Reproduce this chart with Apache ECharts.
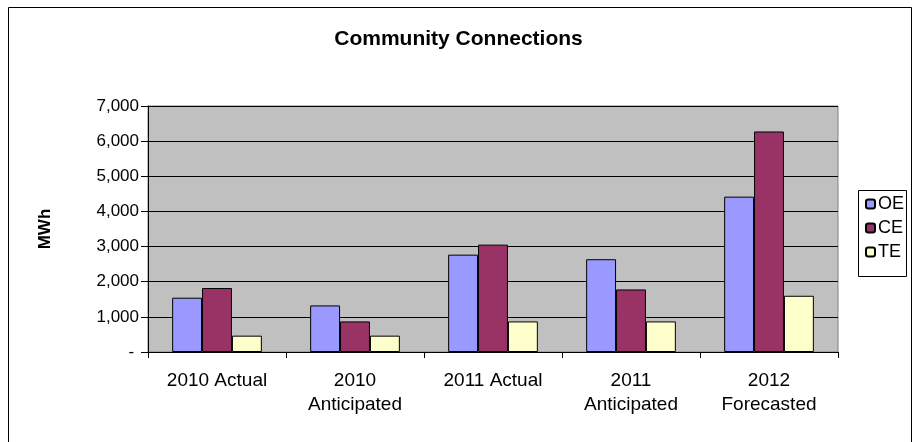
<!DOCTYPE html>
<html><head><meta charset="utf-8">
<script src="https://cdn.jsdelivr.net/npm/echarts@6/dist/echarts.min.js"></script>
<style>html,body{margin:0;padding:0;background:#fff}#c{width:917px;height:442px}</style>
</head><body><div id="c"></div>
<script>
const categories = ['2010 Actual', '2010\nAnticipated', '2011 Actual', '2011\nAnticipated', '2012\nForecasted'];
const oeValues = [1545, 1325, 2770, 2640, 4420];
const ceValues = [1820, 870, 3055, 1780, 6275];
const teValues = [465, 465, 870, 870, 1600];
const seriesNames = ['OE', 'CE', 'TE'];
const seriesColors = ['#9999FF', '#993366', '#FFFFCC'];
const yTicks = [0, 1000, 2000, 3000, 4000, 5000, 6000, 7000];

const font = 'Liberation Sans, Arial, sans-serif';
const chart = echarts.init(document.getElementById('c'), null, {renderer: 'canvas'});
const vals = [oeValues, ceValues, teValues];
chart.setOption({
  animation: false,
  backgroundColor: '#fff',
  title: {
    text: 'Community Connections', left: 'center', top: 29, padding: 0,
    textStyle: {fontFamily: font, fontSize: 21, fontWeight: 'bold', color: '#000'}
  },
  graphic: [
    {type: 'rect', shape: {x: 8.5, y: 7.5, width: 903, height: 460}, style: {fill: null, stroke: '#000', lineWidth: 1}, z: -1},
    {type: 'rect', shape: {x: 858.5, y: 190.5, width: 48, height: 86}, style: {fill: '#fff', stroke: '#000', lineWidth: 1}, z: 0}
  ],
  legend: {
    orient: 'vertical', left: 865, top: 195, padding: 0, itemWidth: 9, itemHeight: 9, itemGap: 6,
    textStyle: {fontFamily: font, fontSize: 18, lineHeight: 18, color: '#000', padding: [0, 0, 0, -2]},
    data: seriesNames, z: 5
  },
  grid: {left: 148, right: 79, top: 106, bottom: 90, show: true, backgroundColor: '#C0C0C0', borderColor: '#808080', borderWidth: 1},
  xAxis: {
    type: 'category', data: categories,
    axisLine: {lineStyle: {color: '#000', width: 1}},
    axisTick: {show: true, length: 6, lineStyle: {color: '#000'}},
    axisLabel: {fontFamily: font, fontSize: 19, color: '#000', margin: 17, lineHeight: 24, interval: 0}
  },
  yAxis: {
    type: 'value', min: 0, max: 7000, interval: 1000,
    name: 'MWh', nameLocation: 'middle', nameGap: 94, nameRotate: 90,
    nameTextStyle: {fontFamily: font, fontSize: 17, fontWeight: 'bold', color: '#000'},
    axisLine: {show: true, lineStyle: {color: '#000'}},
    axisTick: {show: true, length: 7, inside: false, lineStyle: {color: '#000'}},
    splitLine: {lineStyle: {color: '#000', width: 1}},
    axisLabel: {
      fontFamily: font, fontSize: 17, color: '#000', margin: 9,
      formatter: v => v === yTicks[0] ? '- ' : v.toLocaleString('en-US')
    }
  },
  series: seriesNames.map((n, i) => ({
    name: n, type: 'bar', data: vals[i], barGap: '0%', barCategoryGap: '35%',
    itemStyle: {color: seriesColors[i], borderColor: '#000', borderWidth: 1}
  }))
});
</script></body></html>
